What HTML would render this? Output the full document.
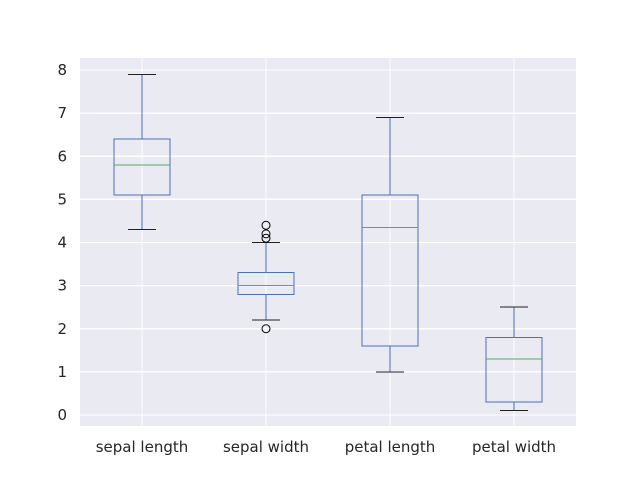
<!DOCTYPE html>
<html><head><meta charset="utf-8"><style>
body{margin:0;background:#fff;}
svg text{font-family:"DejaVu Sans","Liberation Sans",sans-serif;font-size:15px;fill:#262626;}
line,rect{shape-rendering:crispEdges;}
</style></head><body>
<svg id="chart" width="640" height="480">
<rect x="80" y="58" width="496" height="368" fill="#EAEAF2"/>
<g id="grid"></g><g id="boxes"></g><g id="labels"></g>
</svg>
<script>
const categories=["sepal length","sepal width","petal length","petal width"];
const whiskerLow=[4.3,2.2,1.0,0.1];
const q1=[5.1,2.8,1.6,0.3];
const medians=[5.8,3.0,4.35,1.3];
const q3=[6.4,3.3,5.1,1.8];
const whiskerHigh=[7.9,4.0,6.9,2.5];
const outliers=[[],[4.4,4.1,4.2,2.0],[],[]];
const yTicks=[0,1,2,3,4,5,6,7,8];
const NS="http://www.w3.org/2000/svg";
function y(v){return 415-43.125*v;}
function x(i){return 142+124*i;}
function mk(tag,attrs,parent,text){const e=document.createElementNS(NS,tag);for(const k in attrs)e.setAttribute(k,attrs[k]);if(text!==undefined)e.textContent=text;document.getElementById(parent).appendChild(e);return e;}
yTicks.forEach(t=>{
 let l=mk('line',{x1:80,x2:576,y1:y(t),y2:y(t),stroke:'#fff','stroke-width':1.3},'grid');
 
 
 let tx=mk('text',{x:67,y:y(t)+5,'text-anchor':'end'},'labels',String(t));
 
 
});
categories.forEach((c,i)=>{
 let l=mk('line',{x1:x(i),x2:x(i),y1:58,y2:426,stroke:'#fff','stroke-width':1.3},'grid');
 
 
 let tx=mk('text',{x:x(i),y:452,'text-anchor':'middle'},'labels',c);
 
 
 const cx=x(i);
 let g=mk('g',{},'boxes');
 
 
 const add=(tag,a)=>{const e=document.createElementNS(NS,tag);for(const k in a)e.setAttribute(k,a[k]);g.appendChild(e);return e;};
 add('line',{x1:cx,x2:cx,y1:y(whiskerLow[i]),y2:y(q1[i]),stroke:'#4C72B0'});
 add('line',{x1:cx,x2:cx,y1:y(q3[i]),y2:y(whiskerHigh[i]),stroke:'#4C72B0'});
 add('line',{x1:cx-14,x2:cx+14,y1:y(whiskerLow[i]),y2:y(whiskerLow[i]),stroke:'#222'});
 add('line',{x1:cx-14,x2:cx+14,y1:y(whiskerHigh[i]),y2:y(whiskerHigh[i]),stroke:'#222'});
 add('rect',{x:cx-28,y:y(q3[i]),width:56,height:y(q1[i])-y(q3[i]),fill:'none',stroke:'#4C72B0'});
 add('line',{x1:cx-28,x2:cx+28,y1:y(medians[i]),y2:y(medians[i]),stroke:'#55A868'});
 outliers[i].forEach(o=>add('circle',{cx:cx,cy:y(o),r:4,fill:'none',stroke:'#000'}));
});
</script>
</body></html>
